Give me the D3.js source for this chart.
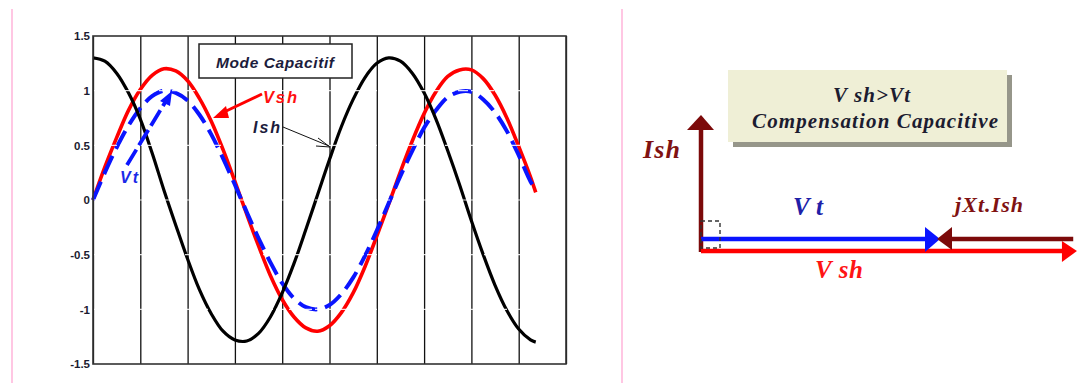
<!DOCTYPE html>
<html>
<head>
<meta charset="utf-8">
<script src="https://cdn.jsdelivr.net/npm/d3@7"></script>
<style>
  body { margin: 0; background: #fff; }
  svg { display: block; }
</style>
</head>
<body>
<svg id="chart"></svg>
<script>
// sample positions along the x axis (grid units, one gridline per unit)
let tValues = [0, 0.25, 0.5, 0.75, 1, 1.25, 1.5, 1.75, 2, 2.25, 2.5, 2.75, 3, 3.25, 3.5, 3.75, 4, 4.25, 4.5, 4.75,
  5, 5.25, 5.5, 5.75, 6, 6.25, 6.5, 6.75, 7, 7.25, 7.5, 7.75, 8, 8.25, 8.5, 8.75, 9, 9.25, 9.36]

// values
let vtValues = [0, 0.25, 0.48, 0.68, 0.84, 0.95, 1.0, 0.98, 0.91, 0.78, 0.6, 0.38, 0.14, -0.11, -0.35, -0.57, -0.76, -0.9, -0.98, -1.0,
  -0.96, -0.86, -0.71, -0.51, -0.28, -0.03, 0.22, 0.45, 0.66, 0.82, 0.94, 0.99, 0.99, 0.92, 0.8, 0.63, 0.41, 0.17, 0.1]
let vshValues = [0, 0.3, 0.57, 0.82, 1.01, 1.14, 1.2, 1.18, 1.09, 0.93, 0.72, 0.46, 0.17, -0.13, -0.42, -0.69, -0.91, -1.07, -1.17, -1.2,
  -1.15, -1.03, -0.85, -0.61, -0.33, -0.04, 0.26, 0.54, 0.79, 0.99, 1.13, 1.19, 1.19, 1.11, 0.96, 0.75, 0.49, 0.21, 0.07]
let ishValues = [1.3, 1.27, 1.16, 0.98, 0.74, 0.43, 0.09, -0.23, -0.54, -0.82, -1.04, -1.2, -1.28, -1.29, -1.22, -1.07, -0.85, -0.58, -0.27, 0.05,
  0.37, 0.67, 0.92, 1.12, 1.25, 1.3, 1.27, 1.16, 0.98, 0.74, 0.45, 0.14, -0.19, -0.5, -0.78, -1.01, -1.18, -1.28, -1.3]

let yTicks = [1.5, 1, 0.5, 0, -0.5, -1, -1.5]
let yTickLabels = ['1.5', '1', '0.5', '0', '-0.5', '-1', '-1.5']
let xGrid = [0, 1, 2, 3, 4, 5, 6, 7, 8, 9, 10]

// phasor diagram (per unit, Vt = 1)
let phasorNames = ['Vt', 'Vsh', 'Ish', 'jXt.Ish']
let phasorLength = [1, 1.573, 0.565, 0.57]

let width = 1080
let height = 383

let svg = d3.select('#chart')
svg.attr('width', width).attr('height', height)

// pink separators
svg.append('line').attr('x1', 12).attr('x2', 12).attr('y1', 9).attr('y2', 383)
  .attr('stroke', '#ffb4da').attr('stroke-width', 1.5)
svg.append('line').attr('x1', 622).attr('x2', 622).attr('y1', 9).attr('y2', 383)
  .attr('stroke', '#ffb4da').attr('stroke-width', 1.5)

let xScale = d3.scaleLinear().domain([0, 10]).range([93, 566])
let yScale = d3.scaleLinear().domain([-1.5, 1.5]).range([364, 36])

// vertical gridlines
let gridAxis = d3.axisBottom(xScale).tickValues(xGrid).tickSize(-(364 - 36)).tickFormat('')
let grid = svg.append('g').attr('transform', 'translate(0,364)').call(gridAxis)
grid.select('.domain').remove()
grid.selectAll('line').attr('stroke', '#111').attr('stroke-width', 1.3)

let yAxis = d3.axisLeft(yScale).tickValues(yTicks).tickSize(0).tickPadding(3)
  .tickFormat((d, i) => yTickLabels[i])
let yG = svg.append('g').attr('transform', 'translate(93,0)').call(yAxis)
yG.select('.domain').remove()
yG.selectAll('text').attr('font-family', 'Liberation Sans, Arial, sans-serif')
  .attr('font-size', 11.5).attr('font-weight', 'bold').attr('fill', '#1c1c30')

let series = [
  {name: 'Vsh', values: vshValues, color: '#ff0000', width: 3.6, dash: null},
  {name: 'Vt', values: vtValues, color: '#0a14ff', width: 4, dash: '20,8'},
  {name: 'Ish', values: ishValues, color: '#000', width: 3.2, dash: null}
]

let line = d3.line()
  .x((d, i) => xScale(tValues[i]))
  .y(d => yScale(d))
  .curve(d3.curveCatmullRom)

svg.selectAll('path.curve')
  .data(series)
  .enter()
  .append('path')
  .attr('class', 'curve')
  .attr('d', d => line(d.values))
  .attr('fill', 'none')
  .attr('stroke', d => d.color)
  .attr('stroke-width', d => d.width)
  .attr('stroke-dasharray', d => d.dash)
  .attr('stroke-linecap', 'butt')

// faint white horizontal gridlines cutting through the curves
svg.selectAll('line.hgrid')
  .data(yTicks.slice(1, -1))
  .enter()
  .append('line')
  .attr('class', 'hgrid')
  .attr('x1', 94).attr('x2', 565)
  .attr('y1', d => yScale(d)).attr('y2', d => yScale(d))
  .attr('stroke', '#fff').attr('stroke-width', 1.2).attr('stroke-dasharray', '10,3')
  .attr('opacity', 0.85)

// frame
svg.append('rect').attr('x', 93).attr('y', 36).attr('width', 473).attr('height', 328)
  .attr('fill', 'none').attr('stroke', '#333').attr('stroke-width', 1.6)

// legend box
let sans = 'Liberation Sans, Arial, sans-serif'
svg.append('rect').attr('x', 199).attr('y', 44).attr('width', 153).attr('height', 34)
  .attr('fill', '#fff').attr('stroke', '#222').attr('stroke-width', 1.5)
svg.append('text').attr('x', 216).attr('y', 68)
  .attr('font-family', sans).attr('font-size', 15.5).attr('textLength', 118)
  .attr('font-weight', 'bold').attr('font-style', 'italic').attr('fill', '#1c1c3c')
  .text('Mode Capacitif')

// annotations
svg.append('text').attr('x', 263).attr('y', 103).attr('font-family', sans).attr('font-size', 16.5)
  .attr('textLength', 34)
  .attr('font-weight', 'bold').attr('font-style', 'italic').attr('fill', '#ff1010').text('Vsh')
svg.append('line').attr('x1', 262).attr('y1', 94).attr('x2', 222).attr('y2', 113)
  .attr('stroke', '#ff0000').attr('stroke-width', 3)
svg.append('path').attr('d', 'M213,118 L226,106 L229,118 Z').attr('fill', '#ff0000')

svg.append('text').attr('x', 253).attr('y', 133).attr('font-family', sans).attr('font-size', 16)
  .attr('textLength', 27)
  .attr('font-weight', 'bold').attr('font-style', 'italic').attr('fill', '#1c1c3c').text('Ish')
svg.append('line').attr('x1', 283).attr('y1', 127).attr('x2', 329).attr('y2', 146)
  .attr('stroke', '#111').attr('stroke-width', 1)
svg.append('path').attr('d', 'M318,138 L330,147 L316,146').attr('fill', 'none')
  .attr('stroke', '#111').attr('stroke-width', 1)

svg.append('text').attr('x', 120).attr('y', 183).attr('font-family', sans).attr('font-size', 16)
  .attr('textLength', 18)
  .attr('font-weight', 'bold').attr('font-style', 'italic').attr('fill', '#1a2ae8').text('Vt')
svg.append('line').attr('x1', 127).attr('y1', 165).attr('x2', 166).attr('y2', 101)
  .attr('stroke', '#0a14ff').attr('stroke-width', 3.8).attr('stroke-dasharray', '18,5')
svg.append('path').attr('d', 'M172,91 L160,101 L170,106 Z').attr('fill', '#0a14ff')

// ---------- phasor diagram ----------
let serif = 'Liberation Serif, Times New Roman, serif'
let pScale = d3.scaleLinear().domain([0, 1]).range([0, 239])
let ox = 701, oy = 250
let maroon = '#7c0a0a'

// caption box with shadow
svg.append('rect').attr('x', 733).attr('y', 75).attr('width', 279).attr('height', 72).attr('fill', '#96968a')
svg.append('rect').attr('x', 728).attr('y', 70).attr('width', 279).attr('height', 72).attr('fill', '#efefd6')
svg.append('text').attr('x', 833).attr('y', 102).attr('textLength', 77)
  .attr('font-family', serif).attr('font-size', 21).attr('font-weight', 'bold').attr('font-style', 'italic')
  .attr('fill', '#1c1c30').text('V sh>Vt')
svg.append('text').attr('x', 752).attr('y', 128).attr('textLength', 246)
  .attr('font-family', serif).attr('font-size', 21).attr('font-weight', 'bold').attr('font-style', 'italic')
  .attr('fill', '#1c1c30').text('Compensation Capacitive')

// Ish (vertical)
let ishLen = pScale(phasorLength[2])
svg.append('line').attr('x1', ox).attr('y1', oy + 2).attr('x2', ox).attr('y2', oy - ishLen + 14)
  .attr('stroke', maroon).attr('stroke-width', 4.5)
svg.append('path').attr('d', `M${ox},${oy - ishLen} L${ox - 14},${oy - ishLen + 15} L${ox + 13},${oy - ishLen + 15} Z`)
  .attr('fill', maroon)

// Vsh (red)
let vshLen = pScale(phasorLength[1])
svg.append('line').attr('x1', ox).attr('y1', oy + 1).attr('x2', ox + vshLen - 14).attr('y2', oy + 1)
  .attr('stroke', '#ff0000').attr('stroke-width', 4.5)
svg.append('path').attr('d', `M${ox + vshLen},${oy + 1} L${ox + vshLen - 15},${oy - 9} L${ox + vshLen - 15},${oy + 12} Z`)
  .attr('fill', '#ff0000')

// Vt (blue)
let vtLen = pScale(phasorLength[0])
svg.append('line').attr('x1', ox).attr('y1', oy - 11).attr('x2', ox + vtLen - 14).attr('y2', oy - 11)
  .attr('stroke', '#0a14ff').attr('stroke-width', 4.5)
svg.append('path').attr('d', `M${ox + vtLen},${oy - 11} L${ox + vtLen - 15},${oy - 23} L${ox + vtLen - 15},${oy + 2} Z`)
  .attr('fill', '#0a14ff')

// jXt.Ish (maroon, from Vsh tip back to Vt tip)
let jxLen = pScale(phasorLength[3])
let jxEnd = ox + vtLen - 3
let jxStart = jxEnd + jxLen
svg.append('line').attr('x1', jxStart).attr('y1', oy - 11).attr('x2', jxEnd + 14).attr('y2', oy - 11)
  .attr('stroke', maroon).attr('stroke-width', 4.5)
svg.append('path').attr('d', `M${jxEnd},${oy - 11} L${jxEnd + 15},${oy - 23} L${jxEnd + 15},${oy} Z`)
  .attr('fill', maroon)

// right angle marker
svg.append('rect').attr('x', ox).attr('y', 221).attr('width', 19).attr('height', 27)
  .attr('fill', 'none').attr('stroke', '#333').attr('stroke-width', 1.4).attr('stroke-dasharray', '4,3')

// labels
svg.append('text').attr('x', 643).attr('y', 158).attr('font-family', serif).attr('font-size', 26)
  .attr('textLength', 37)
  .attr('font-weight', 'bold').attr('font-style', 'italic').attr('fill', '#801212').text(phasorNames[2])
svg.append('text').attr('x', 793).attr('y', 215).attr('font-family', serif).attr('font-size', 25)
  .attr('textLength', 30)
  .attr('font-weight', 'bold').attr('font-style', 'italic').attr('fill', '#2020a8').text('V t')
svg.append('text').attr('x', 815).attr('y', 278).attr('font-family', serif).attr('font-size', 25)
  .attr('textLength', 48)
  .attr('font-weight', 'bold').attr('font-style', 'italic').attr('fill', '#ff1414').text('V sh')
svg.append('text').attr('x', 955).attr('y', 212).attr('font-family', serif).attr('font-size', 22)
  .attr('textLength', 68)
  .attr('font-weight', 'bold').attr('font-style', 'italic').attr('fill', '#801212').text(phasorNames[3])
</script>
</body>
</html>
